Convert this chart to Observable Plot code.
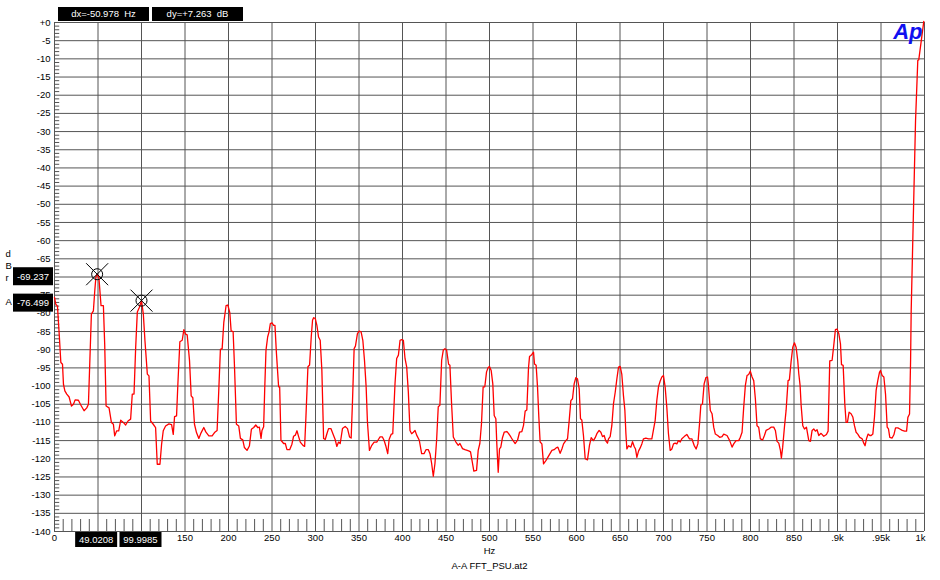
<!DOCTYPE html>
<html><head><meta charset="utf-8">
<script src="https://cdn.jsdelivr.net/npm/d3@7"></script>
<script src="https://cdn.jsdelivr.net/npm/@observablehq/plot@0.6"></script>
<style>
html,body{margin:0;padding:0;background:#fff;}
#chart{width:940px;height:580px;}
</style></head><body><div id="chart"></div>
<script>
// ---- spectrum readings [Hz, dBrA] ----
const spectrum0to250 = [
[0,-75.6],[1.5,-77.5],[3.4,-78.0],[5.4,-85.7],[7.3,-93.5],[9.2,-94.0],[10.3,-99.5],[11.9,-101.3],[14.1,-102.2],[16.8,-103.0],
[19.5,-105.5],[21.8,-105.0],[23.7,-103.8],[27.5,-103.9],[30.2,-105.2],[34.0,-106.8],[37.1,-106.0],[39.0,-105.0],[40.5,-94.0],[42.4,-80.2],
[44.7,-79.3],[46.3,-73.8],[47.6,-70.0],[49.0,-69.2],[51.0,-70.1],[53.5,-77.9],[56.2,-77.9],[57.7,-88.5],[59.3,-105.5],[62.7,-106.0],
[65.4,-110.0],[67.7,-110.5],[69.2,-113.7],[71.5,-112.3],[73.8,-112.3],[76.1,-109.4],[79.1,-110.0],[81.8,-110.7],[84.5,-109.6],[87.5,-109.1],
[89.4,-102.2],[91.4,-102.2],[93.3,-89.4],[95.2,-79.6],[97.5,-78.4],[100.0,-76.5],[102.1,-80.2],[104.0,-87.6],[106.7,-96.7],[108.6,-97.2],
[110.5,-109.6],[113.5,-110.5],[116.2,-111.4],[118.1,-121.5],[121.2,-121.5],[123.1,-116.0],[125.0,-112.3],[127.7,-111.0],[131.5,-110.4],[134.6,-110.6],
[136.5,-113.3],[138.0,-108.4],[140.3,-108.2],[141.8,-99.5],[144.1,-87.8],[146.8,-87.4],[148.7,-84.5],[150.6,-85.7],[152.5,-85.9],[155.2,-93.0],
[157.1,-102.7],[159.0,-103.2],[160.9,-110.5],[163.2,-112.8],[165.9,-114.4],[168.6,-112.8],[171.6,-111.4],[173.9,-112.6],[177.4,-113.7],[181.2,-113.7],
[183.9,-112.8],[186.9,-112.2],[188.8,-101.3],[190.7,-89.9],[192.7,-89.7],[194.6,-82.5],[197.2,-77.9],[199.2,-77.7],[201.5,-79.8],[203.0,-84.8],
[205.3,-85.0],[206.8,-94.0],[209.1,-110.5],[211.8,-111.0],[213.7,-114.4],[216.4,-114.8],[218.3,-116.9],[221.3,-117.7],[224.0,-116.5],[226.3,-111.9],
[229.0,-111.4],[231.3,-110.7],[233.6,-111.4],[235.5,-111.3],[237.4,-114.4],[238.5,-112.2],[240.4,-111.2],[241.6,-101.1],[243.1,-90.1],[245.0,-86.5],
[246.6,-85.1],[248.1,-82.8]
];
const spectrum250to500 = [
[250.0,-82.6],[251.9,-83.3],[253.4,-83.3],[255.0,-90.6],[257.6,-100.2],[258.8,-100.2],[260.3,-114.9],[263.4,-115.8],[265.3,-115.8],[267.2,-117.5],
[270.3,-117.5],[272.9,-116.0],[274.8,-113.8],[276.8,-113.5],[278.7,-112.3],[280.6,-113.9],[282.5,-115.4],[285.6,-116.3],[287.5,-116.6],[289.0,-108.5],
[291.3,-94.7],[293.2,-94.2],[295.1,-86.5],[296.6,-81.9],[297.8,-81.2],[299.7,-81.4],[301.6,-83.3],[303.5,-86.5],[305.4,-87.4],[307.3,-95.6],
[309.3,-114.4],[311.2,-114.7],[313.1,-113.1],[315.0,-111.7],[317.7,-111.7],[320.0,-113.1],[322.6,-114.7],[324.5,-116.6],[326.5,-115.4],[328.4,-115.8],
[331.0,-111.7],[334.1,-111.1],[336.8,-111.7],[339.1,-114.0],[341.0,-114.3],[342.5,-104.4],[344.4,-89.7],[345.9,-89.0],[348.2,-85.6],[350.2,-84.9],
[352.4,-85.1],[354.4,-87.4],[356.3,-92.9],[358.2,-100.2],[359.7,-109.9],[362.0,-117.7],[364.7,-116.3],[367.4,-115.4],[370.4,-115.4],[372.3,-114.7],
[374.2,-114.0],[376.9,-114.0],[378.8,-114.9],[381.1,-116.7],[383.0,-118.6],[384.6,-114.7],[386.9,-113.3],[388.8,-113.1],[391.4,-99.3],[393.3,-92.4],
[395.3,-91.5],[397.2,-87.4],[399.1,-87.2],[401.0,-87.4],[402.9,-92.4],[404.8,-94.7],[406.7,-101.6],[408.6,-112.2],[410.5,-113.1],[412.5,-112.7],
[414.4,-112.2],[416.3,-113.5],[419.3,-114.9],[422.0,-118.6],[424.7,-118.6],[427.0,-117.5],[429.7,-117.5],[431.6,-118.6],[433.5,-121.3],[435.4,-124.8],
[437.3,-121.3],[439.2,-114.9],[441.1,-105.7],[443.0,-105.3],[445.0,-92.9],[446.9,-90.1],[448.8,-89.7],[450.7,-90.1],[453.0,-94.0],[454.5,-94.3],
[456.4,-104.8],[458.4,-114.0],[461.4,-115.4],[464.1,-116.3],[466.0,-115.8],[469.0,-117.2],[471.7,-117.5],[474.4,-117.7],[476.7,-117.9],[478.2,-118.1],
[480.5,-121.3],[482.0,-123.4],[485.1,-123.2],[487.0,-117.7],[488.9,-115.8],[490.8,-110.3],[492.7,-100.2],[494.6,-100.2],[496.6,-96.1],[498.5,-94.9]
];
const spectrum500to750 = [
[500.0,-94.6],[501.9,-95.7],[503.8,-99.4],[505.4,-108.1],[507.3,-109.0],[508.4,-115.9],[510.0,-123.7],[511.5,-117.3],[513.0,-116.8],[514.9,-114.2],
[516.9,-112.7],[519.9,-112.5],[521.8,-113.0],[524.5,-114.0],[526.8,-114.9],[529.5,-115.8],[532.2,-114.9],[534.5,-112.7],[537.2,-112.5],[539.1,-110.8],
[541.0,-106.9],[542.9,-106.6],[544.8,-95.1],[546.0,-91.9],[547.5,-91.6],[548.7,-91.3],[550.6,-90.7],[551.7,-93.9],[553.6,-94.3],[555.2,-100.3],
[556.7,-108.5],[558.2,-115.4],[560.2,-115.9],[562.1,-121.4],[564.8,-120.5],[567.0,-119.6],[569.7,-118.5],[571.7,-117.7],[574.3,-117.5],[576.6,-117.0],
[578.6,-116.8],[581.2,-118.5],[583.2,-117.3],[585.1,-115.9],[587.7,-115.0],[589.7,-114.5],[591.6,-109.5],[593.5,-104.0],[595.4,-103.5],[597.3,-99.4],
[599.2,-97.7],[601.1,-98.0],[603.1,-100.8],[604.6,-109.0],[606.1,-109.3],[608.0,-113.6],[610.0,-120.0],[612.6,-120.3],[614.9,-116.3],[616.9,-114.2],
[619.5,-115.0],[621.5,-114.2],[623.4,-113.1],[626.0,-112.2],[628.0,-112.7],[629.9,-113.9],[631.8,-113.6],[633.7,-115.1],[635.6,-115.7],[636.8,-114.5],
[638.7,-113.9],[640.6,-110.9],[642.5,-104.9],[644.5,-101.7],[646.4,-98.0],[648.3,-94.8],[650.2,-94.6],[652.1,-96.8],[654.0,-102.7],[655.6,-106.7],
[656.8,-113.1],[657.9,-117.3],[659.8,-116.4],[662.5,-116.8],[664.4,-115.3],[666.3,-116.6],[667.8,-117.3],[669.4,-119.6],[671.3,-117.9],[673.2,-117.0],
[675.1,-115.9],[677.0,-114.5],[679.7,-114.3],[682.8,-114.5],[686.6,-114.5],[688.5,-112.0],[690.4,-109.5],[692.3,-104.0],[694.3,-100.1],[696.2,-98.6],
[698.1,-97.5],[700.0,-97.1],[701.9,-100.3],[703.8,-105.8],[705.7,-113.1],[707.7,-117.7],[709.6,-117.3],[711.5,-115.9],[713.4,-115.7],[715.3,-115.9],
[717.2,-115.0],[719.2,-115.4],[721.1,-114.5],[723.8,-113.9],[726.8,-113.3],[729.9,-114.5],[732.6,-114.5],[735.2,-116.3],[737.5,-117.3],[739.5,-115.9],
[741.4,-110.4],[742.9,-105.3],[744.8,-104.9],[746.7,-99.4],[748.7,-97.7]
];
const spectrum750to1000 = [
[750.6,-97.5],[751.5,-99.4],[753.8,-106.7],[755.8,-107.6],[757.7,-111.3],[759.6,-113.2],[762.3,-113.6],[764.6,-114.1],[767.3,-113.9],[769.2,-113.2],
[773.0,-113.6],[776.1,-115.0],[778.8,-116.8],[780.7,-115.9],[783.4,-115.0],[786.4,-115.0],[788.3,-114.1],[790.3,-112.7],[792.2,-105.8],[794.1,-99.8],
[796.0,-97.1],[797.9,-96.8],[799.8,-95.9],[801.8,-97.5],[803.7,-98.5],[805.6,-103.5],[807.5,-110.9],[809.4,-111.3],[811.3,-114.5],[814.0,-114.8],
[816.0,-113.6],[817.9,-112.2],[821.0,-111.8],[823.6,-111.3],[826.7,-111.3],[828.6,-112.2],[830.5,-115.2],[832.5,-115.7],[834.4,-117.7],[835.5,-119.8],
[837.0,-116.8],[839.0,-111.3],[840.9,-106.7],[843.2,-98.5],[844.7,-98.3],[846.6,-93.4],[848.6,-89.3],[850.5,-88.1],[852.4,-89.3],[854.3,-93.0],
[855.5,-96.6],[857.0,-99.8],[858.2,-105.3],[860.1,-110.9],[862.0,-111.8],[864.3,-111.3],[867.0,-115.0],[868.9,-115.2],[870.8,-112.2],[872.7,-111.8],
[874.6,-112.4],[876.5,-112.0],[878.5,-113.6],[881.1,-113.0],[884.2,-113.8],[887.3,-113.3],[889.2,-112.4],[891.1,-93.1],[893.8,-92.9],[895.7,-88.8],
[897.6,-84.5],[899.5,-84.3],[901.5,-85.6],[903.4,-88.4],[904.6,-94.1],[906.5,-94.3],[908.4,-104.9],[909.9,-110.0],[911.4,-110.0],[913.3,-107.2],
[915.6,-107.6],[917.6,-108.5],[919.5,-110.9],[921.4,-112.7],[923.3,-113.2],[925.6,-114.1],[928.3,-114.5],[930.2,-115.7],[931.7,-116.4],[933.3,-114.5],
[935.2,-113.2],[937.1,-113.6],[938.7,-113.6],[940.6,-113.2],[942.5,-108.5],[944.4,-101.2],[946.3,-98.5],[948.3,-96.2],[949.4,-95.7],[951.3,-97.1],
[953.3,-97.5],[955.2,-102.2],[957.1,-111.3],[958.6,-111.8],[960.1,-114.1],[962.8,-114.3],[964.8,-113.4],[966.7,-111.5],[969.4,-111.5],[971.7,-111.8],
[974.4,-112.2],[977.1,-112.4],[979.4,-112.4],[980.9,-108.6],[982.8,-107.7],[984.0,-93.0],[984.7,-79.2],[989.7,-27.0],[992.3,-10.4],[993.4,-10.3],
[999.2,0.3]
];

// ---- cursors ----
const markerFreq = [49.0208, 99.9985];
const markerLevel = [-69.237, -76.499];
const deltaLabels = ["dx=-50.978  Hz", "dy=+7.263  dB"];

// ---- ticks ----
const xTickValues = [0,50,100,150,200,250,300,350,400,450,500,550,600,650,700,750,800,850,900,950,1000];
const xTickLabels = ["0","50","100","150","200","250","300","350","400","450","500","550","600","650","700","750","800","850",".9k",".95k","1k"];
const yTickValues = [0,-5,-10,-15,-20,-25,-30,-35,-40,-45,-50,-55,-60,-65,-70,-75,-80,-85,-90,-95,-100,-105,-110,-115,-120,-125,-130,-135,-140];
const yTickLabels = ["+0","-5","-10","-15","-20","-25","-30","-35","-40","-45","-50","-55","-60","-65","-70","-75","-80","-85","-90","-95","-100","-105","-110","-115","-120","-125","-130","-135","-140"];
const yUnitLabel = "d\nB\nr\n \nA";
const xUnitLabel = "Hz";
const captionText = "A-A FFT_PSU.at2";
const logoText = "Ap";

const spectrum = [...spectrum0to250, ...spectrum250to500, ...spectrum500to750, ...spectrum750to1000]
  .map(([f, db]) => ({f, db}));
const markers = markerFreq.map((f, i) => ({f, db: markerLevel[i]}));
const xMinor = d3.range(10, 1000, 10).filter(v => v % 50 !== 0);
const yMinor = d3.range(-1, -140, -1).filter(v => v % 5 !== 0);

// tick labels hidden under the cursor read-out boxes are not drawn
const xLabelTicks = xTickValues.map((v, i) => ({v, label: xTickLabels[i]}))
  .filter(d => d.v === 0 || markerFreq.every(f => Math.abs(f - d.v) > 10));
const xLabelsMid = xLabelTicks.filter(d => d.v < 1000);
const xLabelsEnd = xLabelTicks.filter(d => d.v === 1000);
const yLabelTicks = yTickValues.map((v, i) => ({v, label: yTickLabels[i]}))
  .filter(d => markerLevel.every(m => Math.abs(m + 2.5 / 3.64 * -1 - d.v) > 1.6));

const FONT = '"Liberation Sans", Arial, Helvetica, sans-serif';
const GRID = "#555";

const crossCircle = {
  draw(ctx, size) {
    const r = Math.sqrt(size / Math.PI);
    const c = r * 0.5;
    ctx.moveTo(c, 0); ctx.arc(0, 0, c, 0, 2 * Math.PI);
    ctx.moveTo(-r, -r); ctx.lineTo(r, r);
    ctx.moveTo(-r, r); ctx.lineTo(r, -r);
  }
};

const plot = Plot.plot({
  width: 940, height: 580,
  marginLeft: 54, marginRight: 16, marginTop: 22, marginBottom: 49,
  style: {fontFamily: FONT, fontSize: "9.5px", background: "white", color: "black", overflow: "visible"},
  x: {domain: [0, 1000], axis: null},
  y: {domain: [-140, 0], axis: null},
  marks: [
    Plot.ruleY(yTickValues, {stroke: GRID, strokeWidth: 1}),
    Plot.ruleX(xTickValues, {stroke: GRID, strokeWidth: 1}),
    Plot.ruleY(yMinor, {x1: 0, x2: 6, stroke: GRID, strokeWidth: 1}),
    Plot.ruleX(xMinor, {y1: -140, y2: -136.7, stroke: GRID, strokeWidth: 1}),
    Plot.line(spectrum, {x: "f", y: "db", stroke: "#ff0000", strokeWidth: 1.3}),
    Plot.dot(markers, {x: "f", y: "db", r: 11, symbol: crossCircle, stroke: "black", strokeWidth: 1, fill: "none"}),
    Plot.text(yLabelTicks, {y: "v", text: "label", frameAnchor: "left", dx: -4, textAnchor: "end", fontSize: 9.5}),
    Plot.text(xLabelsMid, {x: "v", text: "label", frameAnchor: "bottom", dy: 9, fontSize: 9.5}),
    Plot.text(xLabelsEnd, {x: "v", text: "label", frameAnchor: "bottom", dy: 9, dx: 1, textAnchor: "end", fontSize: 9.5}),
    Plot.text([xUnitLabel], {text: d => d, frameAnchor: "bottom", dy: 22, fontSize: 9.5}),
    Plot.text([captionText], {text: d => d, frameAnchor: "bottom", dy: 37, fontSize: 9.5}),
    Plot.text([yUnitLabel], {text: d => d, frameAnchor: "left", dx: -49, lineHeight: 1.26, fontSize: 9.5}),
    Plot.text([logoText], {text: d => d, frameAnchor: "top-right", dx: -2, dy: 1, lineAnchor: "top", textAnchor: "end", fontSize: 22, fontWeight: "bold", fontStyle: "italic", fill: "#1010f0", fontFamily: FONT})
  ]
});

document.getElementById("chart").appendChild(plot);

// ---- cursor read-out boxes (positioned through the plot's scales) ----
const svg = d3.select(plot);
const sx = plot.scale("x"), sy = plot.scale("y");
const g = svg.append("g").attr("font-family", FONT).attr("font-size", 9.5);

markers.forEach((m, i) => {
  const cx = sx.apply(m.f) - 0.5;
  g.append("rect").attr("x", cx - 21).attr("y", 532).attr("width", 42).attr("height", 15).attr("fill", "black");
  g.append("text").attr("x", cx).attr("y", 539.5).attr("dy", "0.35em").attr("text-anchor", "middle")
    .attr("fill", "white").text(m.f.toFixed(4));
  const cy = sy.apply(m.db) + 2.5;
  g.append("rect").attr("x", 13).attr("y", cy - 9).attr("width", 40).attr("height", 18).attr("fill", "black");
  g.append("text").attr("x", 33).attr("y", cy).attr("dy", "0.35em").attr("text-anchor", "middle")
    .attr("fill", "white").text(m.db.toFixed(3));
});

// delta header boxes
const headerX = [58, 152];
deltaLabels.forEach((t, i) => {
  g.append("rect").attr("x", headerX[i]).attr("y", 7).attr("width", 91).attr("height", 14).attr("fill", "black");
  g.append("text").attr("x", headerX[i] + 45.5).attr("y", 14).attr("dy", "0.35em").attr("text-anchor", "middle")
    .attr("fill", "white").style("white-space", "pre").text(t);
});
</script>
</body></html>
